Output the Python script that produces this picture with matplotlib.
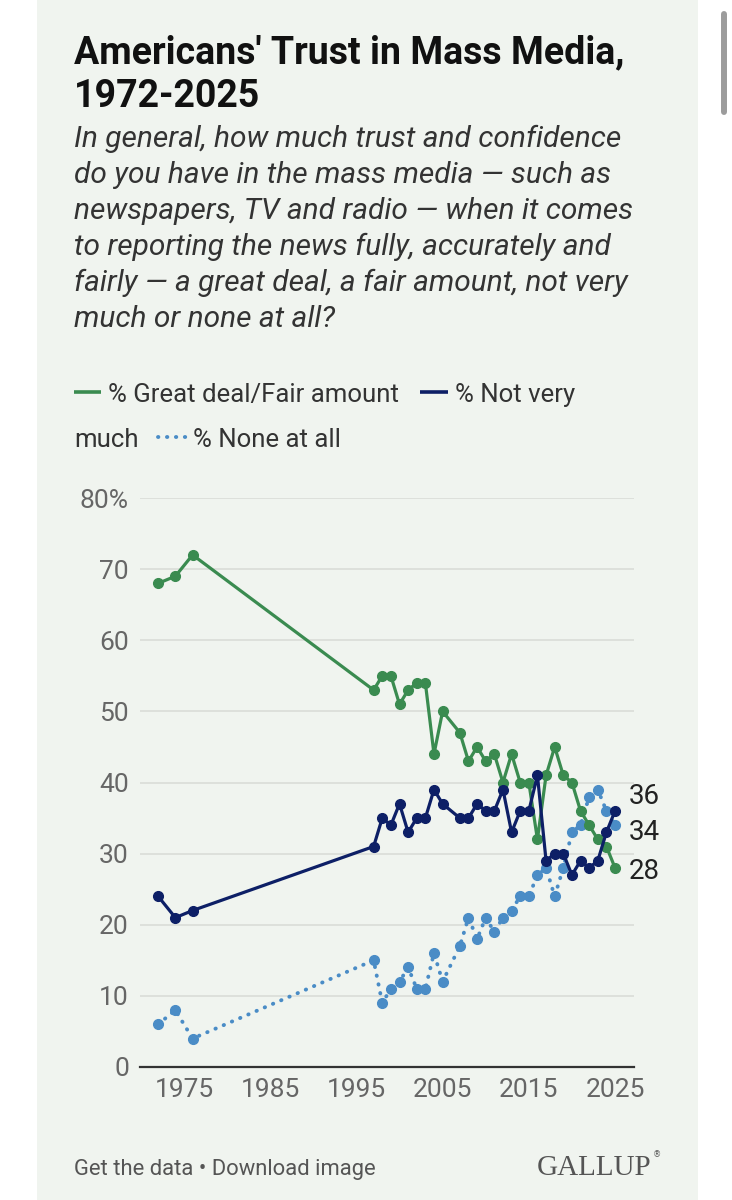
import matplotlib
matplotlib.use('Agg')
import matplotlib.pyplot as plt
from matplotlib.lines import Line2D
from matplotlib.patches import Rectangle

# Survey years (no 1977-1996, no 2006)
years = [1972, 1974, 1976, 1997, 1998, 1999, 2000, 2001, 2002, 2003, 2004, 2005,
         2007, 2008, 2009, 2010, 2011, 2012, 2013, 2014, 2015, 2016, 2017, 2018,
         2019, 2020, 2021, 2022, 2023, 2024, 2025]

# % Great deal/Fair amount
great_fair = [68, 69, 72, 53, 55, 55, 51, 53, 54, 54, 44, 50,
              47, 43, 45, 43, 44, 40, 44, 40, 40, 32, 41, 45,
              41, 40, 36, 34, 32, 31, 28]

# % Not very much
not_very = [24, 21, 22, 31, 35, 34, 37, 33, 35, 35, 39, 37,
            35, 35, 37, 36, 36, 39, 33, 36, 36, 41, 29, 30,
            30, 27, 29, 28, 29, 33, 36]

# % None at all
none_at_all = [6, 8, 4, 15, 9, 11, 12, 14, 11, 11, 16, 12,
               17, 21, 18, 21, 19, 21, 22, 24, 24, 27, 28, 24,
               28, 33, 34, 38, 39, 36, 34]

series_names = ['% Great deal/Fair amount', '% Not very much', '% None at all']
x_ticks = [1975, 1985, 1995, 2005, 2015, 2025]
y_ticks = [0, 10, 20, 30, 40, 50, 60, 70, 80]
y_ticklabels = ['0', '10', '20', '30', '40', '50', '60', '70', '80%']

GREEN = '#3a8b50'
NAVY = '#0d1f66'
PALE = '#4a8cc6'
PANEL = '#f0f4ef'

plt.rcParams['font.family'] = 'Roboto'

W, H = 732, 1200


def fx(x):
  return x / W


def fy(y):
  return 1 - y / H


fig = plt.figure(figsize=(W / 100, H / 100), dpi=100)
fig.patch.set_facecolor('white')

# Card background
fig.add_artist(Rectangle((fx(37), 0), fx(698) - fx(37), 1, transform=fig.transFigure,
                         facecolor=PANEL, edgecolor='none', zorder=0))

# Scrollbar of the screenshot
fig.add_artist(Line2D([fx(724), fx(724)], [fy(14), fy(112)], transform=fig.transFigure,
                      color='#9c9c9c', lw=4.3, solid_capstyle='round'))

# Title and question
fig.text(fx(74), fy(63), "Americans' Trust in Mass Media,", fontsize=27, fontweight='bold',
         color='#111111', va='baseline')
fig.text(fx(74), fy(107), '1972-2025', fontsize=27, fontweight='bold', color='#111111', va='baseline')

question = ['In general, how much trust and confidence',
            'do you have in the mass media \u2014 such as',
            'newspapers, TV and radio \u2014 when it comes',
            'to reporting the news fully, accurately and',
            'fairly \u2014 a great deal, a fair amount, not very',
            'much or none at all?']
for i, line in enumerate(question):
  fig.text(fx(74), fy(147 + 36 * i), line, fontsize=21.5, fontstyle='italic',
           color='#333333', va='baseline')

# Legend (wrapped like the original)
def legend_line(x0, x1, y, color, dotted=False):
  if dotted:
    ln = Line2D([fx(x0), fx(x1)], [fy(y), fy(y)], transform=fig.transFigure, color=color,
                lw=2.8, ls=(0, (0.1, 2.2)), dash_capstyle='round')
  else:
    ln = Line2D([fx(x0), fx(x1)], [fy(y), fy(y)], transform=fig.transFigure, color=color,
                lw=2.6, solid_capstyle='butt')
  fig.add_artist(ln)

legend_line(74, 101, 392, GREEN)
fig.text(fx(108), fy(402), series_names[0], fontsize=18.5, color='#333333', va='baseline')
legend_line(420, 448, 392, NAVY)
fig.text(fx(455), fy(402), '% Not very', fontsize=18.5, color='#333333', va='baseline')
fig.text(fx(74), fy(447), 'much', fontsize=18.5, color='#333333', va='baseline')
legend_line(158, 186, 437, PALE, dotted=True)
fig.text(fx(193), fy(447), series_names[2], fontsize=18.5, color='#333333', va='baseline')

# Chart
ax = fig.add_axes([fx(140), fy(1067), fx(634) - fx(140), (1067 - 498) / H])
ax.set_facecolor('none')
ax.set_xlim(1969.9, 2027.2)
ax.set_ylim(0, 80)

ax.plot(years, none_at_all, color=PALE, lw=2.8, ls=(0, (0.1, 2.2)), dash_capstyle='round',
        marker='o', ms=7, zorder=3, clip_on=False)
ax.plot(years, great_fair, color=GREEN, lw=2.3, marker='o', ms=7, zorder=4, clip_on=False)
ax.plot(years, not_very, color=NAVY, lw=2.3, marker='o', ms=7, zorder=5, clip_on=False)

# End labels
end_labels = [(not_very[-1], 10.5), (none_at_all[-1], -5), (great_fair[-1], -2.5)]
for val, dy in end_labels:
  ax.annotate('{0:d}'.format(val), xy=(years[-1], val), xytext=(10, dy), textcoords='offset points',
              fontsize=20, color='#222222', va='center', ha='left', annotation_clip=False)

ax.set_xticks(x_ticks)
ax.set_yticks(y_ticks)
ax.set_yticklabels(y_ticklabels)
ax.tick_params(length=0, labelsize=19, labelcolor='#666666')
ax.tick_params(axis='y', pad=8)
ax.tick_params(axis='x', pad=8)
ax.grid(axis='y', color='#dadcd8', lw=1.2)
ax.set_axisbelow(True)
for s in ['top', 'right', 'left']:
  ax.spines[s].set_visible(False)
ax.spines['bottom'].set_color('#333333')
ax.spines['bottom'].set_linewidth(1.6)

# Footer
fig.text(fx(74), fy(1175), 'Get the data \u2022 Download image', fontsize=15.8, color='#555555',
         va='baseline')
fig.text(fx(537), fy(1175), 'GALLUP', fontsize=21, family='Liberation Serif', color='#555555',
         va='baseline')
fig.text(fx(653), fy(1157), '\u00ae', fontsize=6, family='DejaVu Sans', color='#555555',
         va='baseline')

fig.savefig('out.png', dpi=100, facecolor=fig.get_facecolor())
